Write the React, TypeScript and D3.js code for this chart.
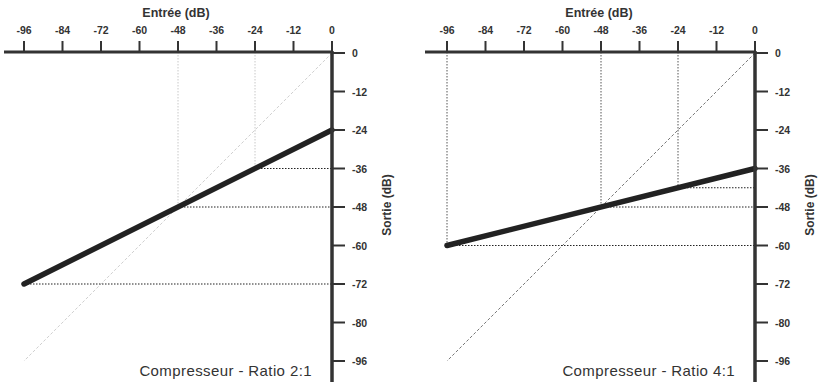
import React from "react";
import * as d3 from "d3";

const inputTicks = [-96, -84, -72, -60, -48, -36, -24, -12, 0];
const inputLabels = ["-96", "-84", "-72", "-60", "-48", "-36", "-24", "-12", "0"];
const outputTicks = [0, -12, -24, -36, -48, -60, -72, -84, -96];
const outputLabels = ["0", "-12", "-24", "-36", "-48", "-60", "-72", "-80", "-96"];

const lineInputs = [-96, 0];
const output2 = [-72, -24];
const output4 = [-60, -36];
const guides2In = [-48, -24];
const guides2Out = [-48, -36];
const horiz2In = [-96, -48, -24];
const horiz2Out = [-72, -48, -36];
const guides4In = [-96, -48, -24];
const guides4Out = [-60, -48, -42];
const horiz4In = [-96, -48, -24];
const horiz4Out = [-60, -48, -42];

const titles = ["Compresseur - Ratio 2:1", "Compresseur - Ratio 4:1"];

const FONT = "'Liberation Sans', Arial, sans-serif";

type PanelProps = {
  axisX: number;
  axisStart: number;
  outputs: number[];
  vIn: number[];
  vOut: number[];
  hIn: number[];
  hOut: number[];
  title: string;
  vColor: string;
  diagColor: string;
};

function Panel({ axisX, axisStart, outputs, vIn, vOut, hIn, hOut, title, vColor, diagColor }: PanelProps) {
  const x = d3.scaleLinear().domain([-96, 0]).range([axisX - 308, axisX]);
  const y = d3.scaleLinear().domain([0, -96]).range([53, 361]);
  const topY = 52;
  const line = d3
    .line<number>()
    .x((_, i) => x(lineInputs[i]))
    .y((d) => y(d));
  return (
    <g>
      <line x1={x(0)} y1={y(0)} x2={x(-96)} y2={y(-96)} stroke={diagColor} strokeWidth={1} strokeDasharray="3,2" />
      {vIn.map((v, i) => (
        <line key={"v" + i} x1={x(v)} x2={x(v)} y1={topY} y2={y(vOut[i])} stroke={vColor} strokeWidth={1} strokeDasharray="1.5,1.5" />
      ))}
      {hIn.map((v, i) => (
        <line key={"h" + i} x1={x(v)} x2={axisX} y1={y(hOut[i])} y2={y(hOut[i])} stroke="#222" strokeWidth={1.2} strokeDasharray="1.5,1.5" />
      ))}
      <path d={line(outputs) || ""} stroke="#222" strokeWidth={5.5} fill="none" strokeLinecap="round" />
      <line x1={axisStart} x2={axisX + 1} y1={topY} y2={topY} stroke="#333" strokeWidth={3} />
      {inputTicks.map((t, i) => (
        <g key={"it" + i}>
          <line x1={x(t)} x2={x(t)} y1={41} y2={topY} stroke="#333" strokeWidth={2} />
          <text x={x(t)} y={34} textAnchor="middle" fontFamily={FONT} fontWeight="bold" fontSize={10.5} fill="#333">
            {inputLabels[i]}
          </text>
        </g>
      ))}
      <text x={(x(-96) + x(0)) / 2 - 2} y={17} textAnchor="middle" fontFamily={FONT} fontWeight="bold" fontSize={12.5} fill="#333">
        Entrée (dB)
      </text>
      <line x1={axisX} x2={axisX} y1={topY - 1} y2={382} stroke="#333" strokeWidth={3.5} />
      {outputTicks.map((t, i) => (
        <g key={"ot" + i}>
          <line x1={axisX} x2={axisX + 13} y1={y(t)} y2={y(t)} stroke="#333" strokeWidth={2} />
          <text x={axisX + 20} y={y(t) + 4} textAnchor="start" fontFamily={FONT} fontWeight="bold" fontSize={10.5} fill="#333">
            {outputLabels[i]}
          </text>
        </g>
      ))}
      <text
        transform={`translate(${axisX + 59},205) rotate(-90)`}
        textAnchor="middle"
        fontFamily={FONT}
        fontWeight="bold"
        fontSize={12}
        fill="#333"
      >
        Sortie (dB)
      </text>
      <text x={axisX - 20} y={376} textAnchor="end" fontFamily={FONT} fontSize={15} letterSpacing={0.4} fill="#333">
        {title}
      </text>
    </g>
  );
}

export default function App() {
  return (
    <svg width={818} height={384} style={{ position: "absolute", left: 0, top: 0, background: "#fff" }}>
      <rect width={818} height={384} fill="#fff" />
      <Panel
        axisX={332}
        axisStart={4}
        outputs={output2}
        vIn={guides2In}
        vOut={guides2Out}
        hIn={horiz2In}
        hOut={horiz2Out}
        title={titles[0]}
        vColor="#c8c8c8"
        diagColor="#d0d0d0"
      />
      <Panel
        axisX={755}
        axisStart={425}
        outputs={output4}
        vIn={guides4In}
        vOut={guides4Out}
        hIn={horiz4In}
        hOut={horiz4Out}
        title={titles[1]}
        vColor="#555"
        diagColor="#777"
      />
    </svg>
  );
}
